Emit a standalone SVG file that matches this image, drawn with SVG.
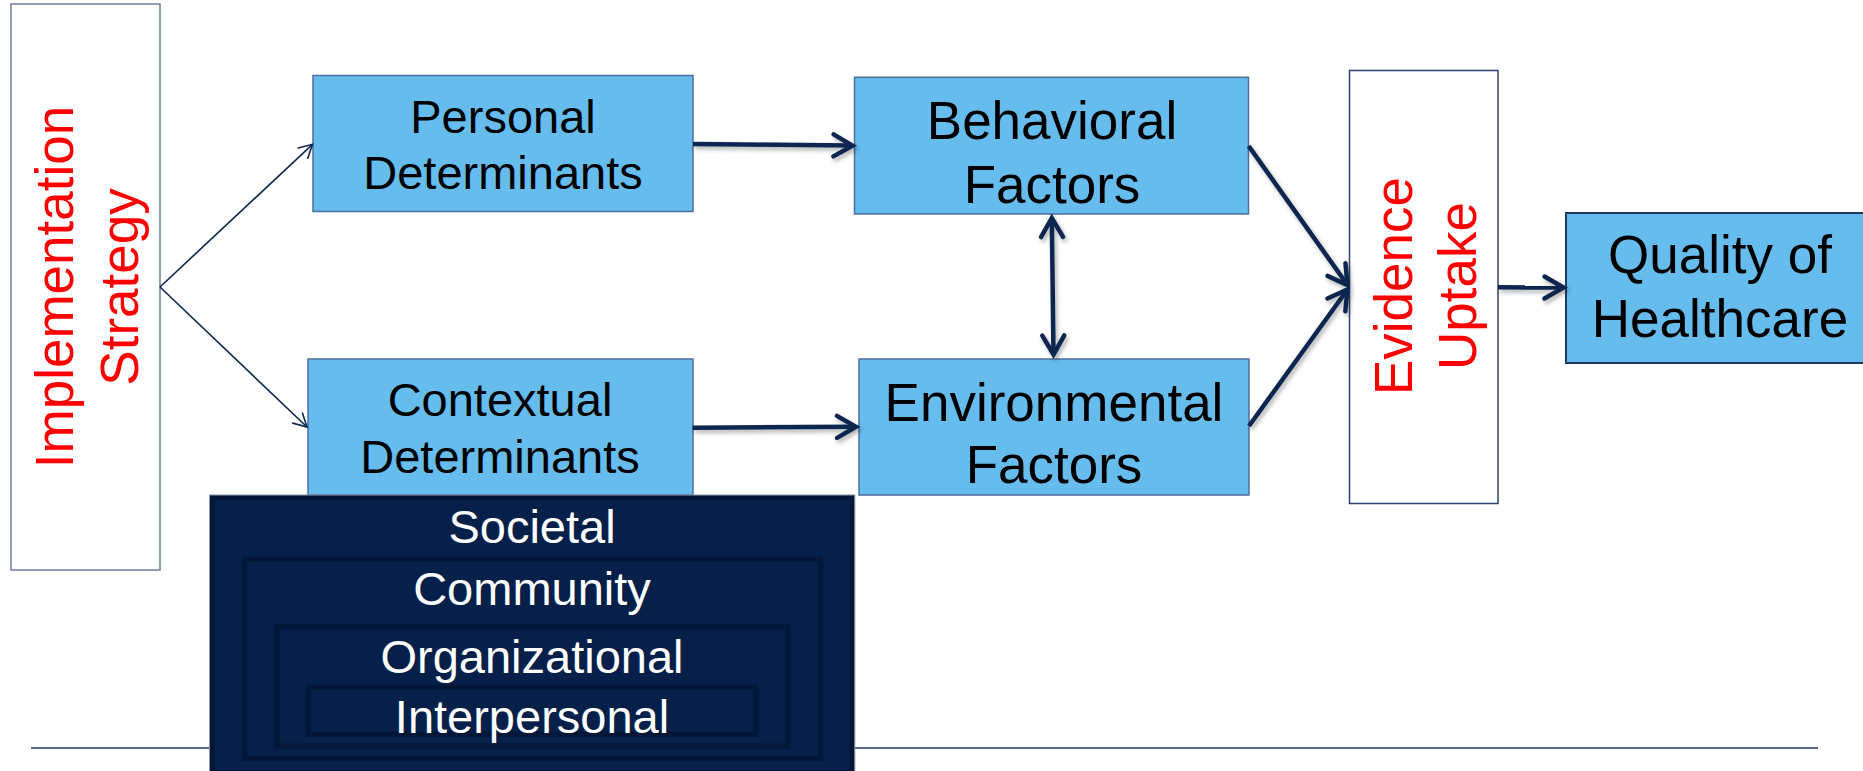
<svg xmlns="http://www.w3.org/2000/svg" width="1863" height="771" viewBox="0 0 1863 771">
<style>
  .lb { fill: #66bcec; stroke: #4d6d9c; stroke-width: 1.5; }
  .wb { fill: #ffffff; stroke: #4a5f82; stroke-width: 1.5; }
  .t { font-family: "Liberation Sans", Arial, sans-serif; text-anchor: middle; fill: #000000; }
  .red { font-family: "Liberation Sans", Arial, sans-serif; text-anchor: middle; fill: #ff0000; font-size: 53px; }
  .wt { font-family: "Liberation Sans", Arial, sans-serif; text-anchor: middle; fill: #ffffff; font-size: 47px; }
  .ring { fill: none; stroke: #031738; stroke-width: 5; }
  .thick { fill: none; stroke: #0d2650; stroke-width: 4.5; }
  .thin { fill: none; stroke: #0d2650; stroke-width: 1.6; }
</style>
<defs>
  <marker id="ahT" markerUnits="userSpaceOnUse" orient="auto-start-reverse" overflow="visible" markerWidth="1" markerHeight="1" refX="0" refY="0">
    <path d="M-19,-11 L0,0 L-19,11" fill="none" stroke="#0d2650" stroke-width="4.5" stroke-linecap="round"/>
  </marker>
  <marker id="ahS" markerUnits="userSpaceOnUse" orient="auto" overflow="visible" markerWidth="1" markerHeight="1" refX="0" refY="0">
    <path d="M-13,-7 L0,0 L-13,7" fill="none" stroke="#0d2650" stroke-width="1.6" stroke-linecap="round"/>
  </marker>
  <filter id="sh" x="-20%" y="-20%" width="140%" height="160%">
    <feDropShadow dx="2" dy="3" stdDeviation="2" flood-color="#000000" flood-opacity="0.3"/>
  </filter>
</defs>
<rect width="1863" height="771" fill="#ffffff"/>
<line x1="31" y1="748" x2="1818" y2="748" stroke="#1f3864" stroke-width="1.5"/>

<g id="implementation-strategy">
  <rect x="11" y="4" width="149" height="566" fill="#ffffff" stroke="#6b7f9c" stroke-width="1.5"/>
  <text class="red" transform="translate(73,287) rotate(-90)">Implementation</text>
  <text class="red" transform="translate(138,287) rotate(-90)">Strategy</text>
</g>

<g id="personal-determinants">
  <rect class="lb" x="313" y="75.5" width="380" height="136"/>
  <text class="t" font-size="47" x="503" y="132.7">Personal</text>
  <text class="t" font-size="47" x="503" y="189.3">Determinants</text>
</g>

<g id="contextual-determinants">
  <rect class="lb" x="308" y="359" width="385" height="136"/>
  <text class="t" font-size="47" x="500" y="416">Contextual</text>
  <text class="t" font-size="47" x="500" y="473.3">Determinants</text>
</g>

<g id="behavioral-factors">
  <rect class="lb" x="854.5" y="77.3" width="394" height="136.7"/>
  <text class="t" font-size="53" x="1052" y="139.3">Behavioral</text>
  <text class="t" font-size="53" x="1052" y="202.7">Factors</text>
</g>

<g id="environmental-factors">
  <rect class="lb" x="859" y="359" width="390" height="136"/>
  <text class="t" font-size="53" x="1054" y="420.7">Environmental</text>
  <text class="t" font-size="53" x="1054" y="483.3">Factors</text>
</g>

<g id="evidence-uptake">
  <rect x="1349.5" y="70.5" width="148.5" height="433" fill="#ffffff" stroke="#2e4470" stroke-width="1.5"/>
  <text class="red" transform="translate(1411.6,286) rotate(-90)">Evidence</text>
  <text class="red" transform="translate(1476,286) rotate(-90)">Uptake</text>
</g>

<g id="quality-of-healthcare">
  <rect x="1566" y="213" width="310" height="150" fill="#66bcec" stroke="#1f3864" stroke-width="2"/>
  <text class="t" font-size="53" x="1720" y="273.3">Quality of</text>
  <text class="t" font-size="53" x="1720" y="337.3">Healthcare</text>
</g>

<g id="levels">
  <rect x="209.5" y="495" width="645.3" height="280" fill="#031738" stroke="#8a97ab" stroke-width="1"/>
  <rect x="214.5" y="500" width="635.3" height="270" fill="#06204a"/>
  <rect class="ring" x="244.5" y="559.2" width="576" height="199.3"/>
  <rect class="ring" x="277" y="626.8" width="511" height="119.4"/>
  <rect class="ring" x="308.3" y="687.2" width="447.7" height="47"/>
  <text class="wt" x="532" y="543.3">Societal</text>
  <text class="wt" x="532" y="605">Community</text>
  <text class="wt" x="532" y="672.7">Organizational</text>
  <text class="wt" x="532" y="733.3">Interpersonal</text>
</g>

<g id="connectors">
  <line class="thin" x1="160" y1="287" x2="312.5" y2="144.3" marker-end="url(#ahS)"/>
  <line class="thin" x1="160" y1="287" x2="307" y2="427" marker-end="url(#ahS)"/>
  <g filter="url(#sh)">
    <line class="thick" x1="693" y1="144" x2="852.5" y2="145.6" marker-end="url(#ahT)"/>
    <line class="thick" x1="692.6" y1="427.7" x2="856" y2="426.8" marker-end="url(#ahT)"/>
    <line class="thick" x1="1248.7" y1="146" x2="1347.5" y2="285" marker-end="url(#ahT)"/>
    <line class="thick" x1="1249" y1="426" x2="1347.5" y2="289.5" marker-end="url(#ahT)"/>
    <line class="thick" x1="1498" y1="287.3" x2="1563.5" y2="287.6" marker-end="url(#ahT)"/>
    <line class="thick" x1="1051.8" y1="218" x2="1053.5" y2="354.5" marker-start="url(#ahT)" marker-end="url(#ahT)"/>
  </g>
</g>
</svg>
